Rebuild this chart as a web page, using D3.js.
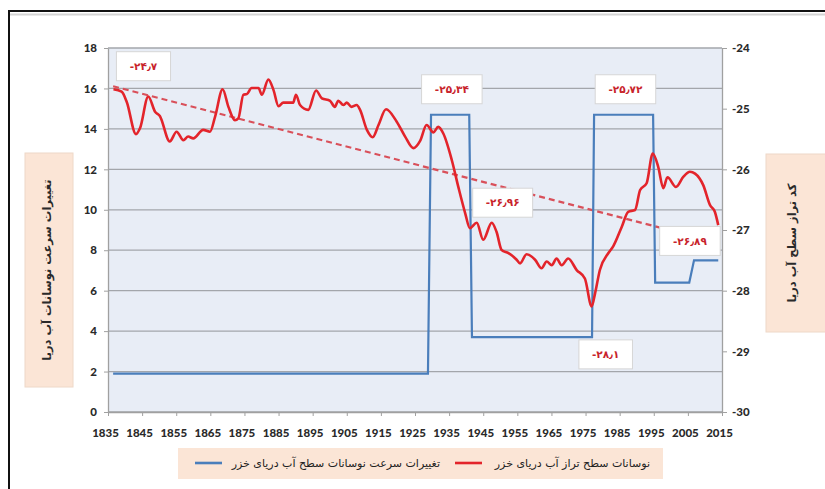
<!DOCTYPE html>
<html>
<head>
<meta charset="utf-8">
<script src="https://cdn.jsdelivr.net/npm/d3@7"></script>
<style>
  body { margin: 0; background: #fff; }
  .tick text { font-family: Lato, "Liberation Sans", sans-serif; font-weight: 900; font-size: 11.5px; fill: #2a2a2a; }
  .fa { font-family: "DejaVu Sans", sans-serif; }
</style>
</head>
<body>
<svg id="chart" width="825" height="489"></svg>
<script>
// Caspian sea level (right axis, m)
const levelYears = [1836.6, 1839.0, 1840.5, 1843.2, 1844.4, 1846.8, 1848.8, 1850.2, 1853.1, 1855.1,
  1857.1, 1858.5, 1860.0, 1862.9, 1864.9, 1866.4, 1868.6, 1870.3, 1872.2, 1873.2,
  1874.7, 1875.7, 1877.1, 1879.1, 1880.1, 1882.0, 1883.5, 1885.0, 1886.4, 1889.3,
  1890.1, 1891.3, 1893.7, 1896.0, 1897.7, 1900.1, 1901.5, 1902.5, 1904.0, 1905.0,
  1906.4, 1907.9, 1908.9, 1910.9, 1912.6, 1914.3, 1916.5, 1919.6, 1922.1, 1924.5,
  1926.5, 1928.4, 1930.4, 1931.8, 1933.3, 1935.8, 1937.7, 1939.7, 1941.1, 1943.1,
  1945.0, 1947.5, 1948.9, 1950.4, 1952.4, 1954.8, 1955.8, 1957.7, 1960.2, 1962.1,
  1963.6, 1965.1, 1966.5, 1968.0, 1969.9, 1972.4, 1974.8, 1976.8, 1977.8, 1979.2,
  1981.7, 1983.1, 1985.6, 1987.5, 1989.5, 1991.0, 1992.9, 1994.7, 1996.3, 1997.8,
  1999.0, 2001.5, 2003.7, 2005.6, 2007.1, 2009.5, 2011.5, 2012.9, 2013.9];
const levelValues = [-24.68, -24.72, -24.89, -25.42, -25.32, -24.80, -25.05, -25.12, -25.54, -25.38,
  -25.52, -25.46, -25.49, -25.35, -25.38, -25.13, -24.68, -24.97, -25.19, -25.16,
  -24.77, -24.76, -24.66, -24.66, -24.77, -24.52, -24.69, -24.96, -24.90, -24.90,
  -24.77, -24.94, -25.02, -24.70, -24.83, -24.87, -24.97, -24.87, -24.94, -24.90,
  -24.97, -24.94, -25.02, -25.35, -25.47, -25.27, -25.01, -25.21, -25.46, -25.65,
  -25.53, -25.27, -25.39, -25.30, -25.41, -25.85, -26.29, -26.72, -26.97, -26.88,
  -27.16, -26.88, -27.03, -27.33, -27.38, -27.49, -27.55, -27.40, -27.49, -27.63,
  -27.52, -27.58, -27.47, -27.58, -27.47, -27.66, -27.80, -28.26, -28.04, -27.66,
  -27.38, -27.27, -26.95, -26.70, -26.67, -26.34, -26.23, -25.74, -25.96, -26.31,
  -26.13, -26.29, -26.12, -26.04, -26.07, -26.26, -26.59, -26.70, -26.92];

// rate of change (left axis), step series
const rateYears = [1836.5, 1928.8, 1929.7, 1940.9, 1941.7, 1976.9, 1977.5, 1994.8, 1995.4, 2005.4, 2006.8, 2013.9];
const rateValues = [1.9, 1.9, 14.7, 14.7, 3.7, 3.7, 14.7, 14.7, 6.4, 6.4, 7.5, 7.5];

// linear trend of sea level
const trendYears = [1836.5, 2014];
const trendValues = [-24.63, -27.21];

// value callouts
const noteText = ["-۲۴٫۷", "-۲۵٫۳۴", "-۲۵٫۷۲", "-۲۶٫۹۶", "-۲۶٫۸۹", "-۲۸٫۱"];
const noteYears = [1845.4, 1935.8, 1986.7, 1950.7, 2005.6, 1980.9];
const noteLevels = [-24.30, -24.68, -24.68, -26.55, -27.18, -29.05];

const leftTicks = [0, 2, 4, 6, 8, 10, 12, 14, 16, 18];
const rightTicks = [-30, -29, -28, -27, -26, -25, -24];
const yearTicks = [1835, 1845, 1855, 1865, 1875, 1885, 1895, 1905, 1915, 1925, 1935, 1945, 1955, 1965, 1975, 1985, 1995, 2005, 2015];

const leftTitle = "تغییرات سرعت نوسانات آب دریا";
const rightTitle = "کد تراز سطح آب دریا";
const legendNames = ["تغییرات سرعت نوسانات سطح آب دریای خزر", "نوسانات سطح تراز آب دریای خزر"];

const blue = "#4a7ebb", red = "#e3242b", peach = "#fbe5d6";

const svg = d3.select("#chart");
const plotLeft = 108, plotRight = 722, plotTop = 48, plotBottom = 412;

const x = d3.scaleLinear().domain([1835, 2015]).range([plotLeft, plotRight]);
const yL = d3.scaleLinear().domain([0, 18]).range([plotBottom, plotTop]);
const yR = d3.scaleLinear().domain([-30, -24]).range([plotBottom, plotTop]);

// outer frame
svg.append("rect").attr("x", 9).attr("y", 11).attr("width", 900).attr("height", 600)
  .attr("fill", "none").attr("stroke", "#111").attr("stroke-width", 2);
svg.append("line").attr("x1", 10).attr("x2", 825).attr("y1", 14.5).attr("y2", 14.5)
  .attr("stroke", "#d4d4d4").attr("stroke-width", 2);

// plot area
svg.append("rect").attr("x", plotLeft).attr("y", plotTop)
  .attr("width", plotRight - plotLeft).attr("height", plotBottom - plotTop)
  .attr("fill", "#e8edf6");

svg.append("g").selectAll("line").data(leftTicks).join("line")
  .attr("x1", plotLeft).attr("x2", plotRight)
  .attr("y1", d => yL(d)).attr("y2", d => yL(d))
  .attr("stroke", "#a3a6ab").attr("stroke-width", 1.3);

// axes
const axL = svg.append("g").attr("transform", `translate(${plotLeft},0)`)
  .call(d3.axisLeft(yL).tickValues(leftTicks).tickSize(4).tickSizeOuter(0).tickPadding(7));
const axR = svg.append("g").attr("transform", `translate(${plotRight},0)`)
  .call(d3.axisRight(yR).tickValues(rightTicks).tickFormat(d => String(d)).tickSize(5).tickSizeOuter(0).tickPadding(5));
const axB = svg.append("g").attr("transform", `translate(0,${plotBottom})`)
  .call(d3.axisBottom(x).tickValues(yearTicks).tickFormat(d3.format("d")).tickSize(4).tickSizeOuter(0).tickPadding(13));
axB.selectAll(".tick text").attr("dx", -3);
[axL, axR, axB].forEach(a => {
  a.select(".domain").attr("stroke", "#a0a0a0").attr("stroke-width", 1.3);
  a.selectAll(".tick line").attr("stroke", "#a0a0a0");
});

// trend
svg.append("path")
  .attr("d", d3.line().x(d => x(d[0])).y(d => yR(d[1]))(d3.zip(trendYears, trendValues)))
  .attr("fill", "none").attr("stroke", "#d9505a").attr("stroke-width", 2.2)
  .attr("stroke-dasharray", "6,4");

// rate step line
svg.append("path")
  .attr("d", d3.line().x(d => x(d[0])).y(d => yL(d[1]))(d3.zip(rateYears, rateValues)))
  .attr("fill", "none").attr("stroke", blue).attr("stroke-width", 2.2);

// sea level
svg.append("path")
  .attr("d", d3.line().curve(d3.curveMonotoneX).x(d => x(d[0])).y(d => yR(d[1]))(d3.zip(levelYears, levelValues)))
  .attr("fill", "none").attr("stroke", red).attr("stroke-width", 2.6).attr("stroke-linejoin", "round");

// callouts
const notes = svg.append("g").selectAll("g").data(d3.zip(noteText, noteYears, noteLevels)).join("g")
  .attr("transform", d => `translate(${x(d[1])},${yR(d[2])})`);
notes.append("rect").attr("y", -14.5).attr("height", 29)
  .attr("fill", "#fff").attr("stroke", "#d6d6d6");
notes.append("text").attr("class", "fa").attr("text-anchor", "middle").attr("dy", "0.35em")
  .attr("font-size", 10.5).attr("font-weight", "bold").attr("fill", "#c8232b")
  .attr("direction", "ltr").text(d => d[0]);
notes.each(function () {
  const w = d3.select(this).select("text").node().getBBox().width + 26;
  d3.select(this).select("rect").attr("x", -w / 2).attr("width", w);
});

// axis titles
svg.append("rect").attr("x", 25).attr("y", 153).attr("width", 48).attr("height", 234)
  .attr("fill", peach).attr("stroke", "#eed8c8");
svg.append("text").attr("class", "fa").attr("transform", "translate(47,270) rotate(-90)")
  .attr("text-anchor", "middle").attr("dy", "0.35em").attr("font-size", 11.5).attr("font-weight", "bold")
  .attr("fill", "#2a2a2a").text(leftTitle);
svg.append("rect").attr("x", 766).attr("y", 154).attr("width", 70).attr("height", 178)
  .attr("fill", peach).attr("stroke", "#eed8c8");
svg.append("text").attr("class", "fa").attr("transform", "translate(792,243) rotate(-90)")
  .attr("text-anchor", "middle").attr("dy", "0.35em").attr("font-size", 11.5).attr("font-weight", "bold")
  .attr("fill", "#2a2a2a").text(rightTitle);

// legend
svg.append("rect").attr("x", 178).attr("y", 448).attr("width", 485).attr("height", 31).attr("fill", peach);
const legColors = [blue, red];
const legLineX = [195, 455];
const legTextEnd = [440, 650];
legendNames.forEach((name, i) => {
  svg.append("line").attr("x1", legLineX[i]).attr("x2", legLineX[i] + 27)
    .attr("y1", 463).attr("y2", 463).attr("stroke", legColors[i]).attr("stroke-width", 2.6);
  svg.append("text").attr("class", "fa").attr("x", legTextEnd[i]).attr("y", 467)
    .attr("text-anchor", "end").attr("font-size", 11).attr("fill", "#222").text(name);
});
</script>
</body>
</html>
